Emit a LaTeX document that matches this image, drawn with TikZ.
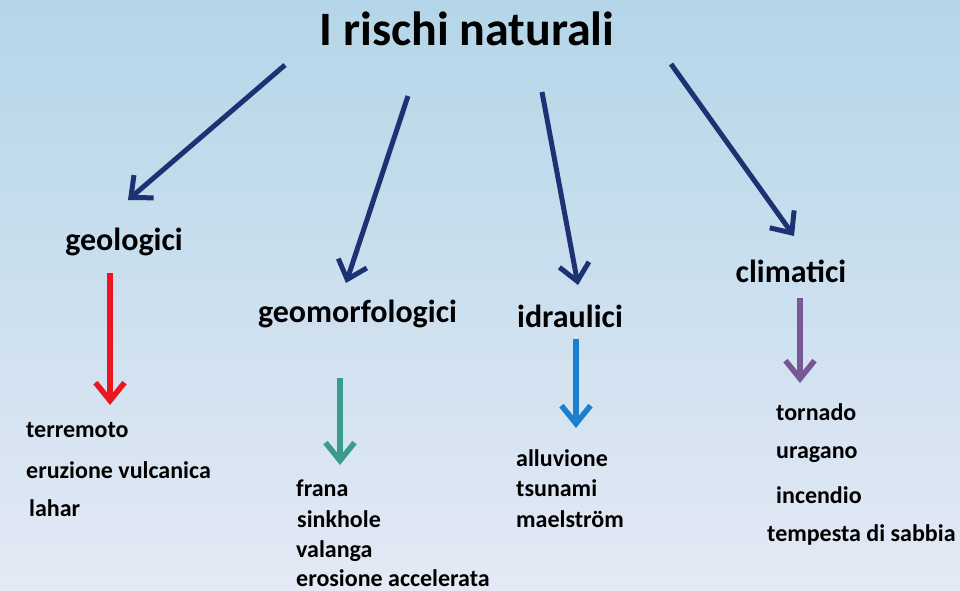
\documentclass[tikz,border=0pt]{standalone}
\usepackage{fontspec}
\setmainfont{Carlito}
\usetikzlibrary{arrows.meta}
\definecolor{navy}{RGB}{28,50,115}
\definecolor{ared}{RGB}{235,22,30}
\definecolor{ateal}{RGB}{58,156,140}
\definecolor{ablue}{RGB}{28,126,204}
\definecolor{apurple}{RGB}{118,88,150}
\definecolor{bgtop}{RGB}{180,214,232}
\definecolor{bgmid}{RGB}{196,210,236}
\definecolor{bgbot}{RGB}{228,233,245}
\tikzset{
  title/.style={anchor=base, inner sep=0pt, font=\fontsize{48}{57}\selectfont\bfseries},
  cat/.style={anchor=base, inner sep=0pt, font=\fontsize{32}{38}\selectfont\bfseries},
  item/.style={anchor=base west, inner sep=0pt, font=\fontsize{24}{29}\selectfont\bfseries},
  bigarrow/.style={line width=5pt, navy, -{Straight Barb[length=17pt,width=30pt]}},
  smallarrow/.style={line width=5.5pt, -{Straight Barb[length=18pt,width=29pt]}}
}
\begin{document}
\begin{tikzpicture}[x=1pt,y=-1pt]
\useasboundingbox (0,0) rectangle (960,590);
\shade[top color=bgtop, middle color=bgmid, bottom color=bgbot] (0,0) rectangle (960,590);

\node[title] (T) at (467,45) {I rischi naturali};

\node[cat] (geo) at (124,250) {geologici};
\node[cat] (geom) at (357.5,322) {geomorfologici};
\node[cat] (idr) at (570,327) {idraulici};
\node[cat] (cli) at (791,282) {climatici};

% main arrows
\coordinate (a1s) at (285,65);  \coordinate (a1e) at (128,200);
\coordinate (a2s) at (408,96);  \coordinate (a2e) at (346,283);
\coordinate (a3s) at (542,92);  \coordinate (a3e) at (578,285);
\coordinate (a4s) at (671,64);  \coordinate (a4e) at (794,236);
\draw[bigarrow] (a1s) -- (a1e);
\draw[bigarrow] (a2s) -- (a2e);
\draw[bigarrow] (a3s) -- (a3e);
\draw[bigarrow] (a4s) -- (a4e);

% coloured arrows
\coordinate (r1) at (110,273); \coordinate (r2) at (110,405);
\coordinate (t1) at (340,378); \coordinate (t2) at (340,465);
\coordinate (b1) at (576,339); \coordinate (b2) at (576,428);
\coordinate (p1) at (800,298); \coordinate (p2) at (800,383);
\draw[smallarrow, ared] (r1) -- (r2);
\draw[smallarrow, ateal] (t1) -- (t2);
\draw[smallarrow, ablue] (b1) -- (b2);
\draw[smallarrow, apurple] (p1) -- (p2);

% items
\node[item] (i1) at (26,437) {terremoto};
\node[item] (i2) at (26,478) {eruzione vulcanica};
\node[item] (i3) at (29,516) {lahar};

\node[item] (j1) at (296,496) {frana};
\node[item] (j2) at (297,527) {sinkhole};
\node[item] (j3) at (296,557) {valanga};
\node[item] (j4) at (296,586) {erosione accelerata};

\node[item] (k1) at (516,466) {alluvione};
\node[item] (k2) at (516,496) {tsunami};
\node[item] (k3) at (516,527) {maelström};

\node[item] (l1) at (776,420) {tornado};
\node[item] (l2) at (776,458) {uragano};
\node[item] (l3) at (776,503) {incendio};
\node[item] (l4) at (767,541) {tempesta di sabbia};
\end{tikzpicture}
\end{document}
